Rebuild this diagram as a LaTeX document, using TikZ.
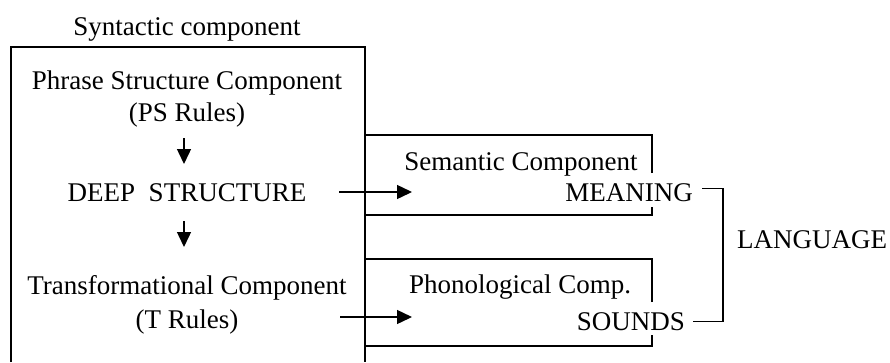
\documentclass[tikz,border=0pt]{standalone}
\usepackage{fontspec}
\setmainfont{Liberation Serif}
\usetikzlibrary{arrows.meta}
\begin{document}
\begin{tikzpicture}[x=1pt,y=-1pt,
  txt/.style={font=\fontsize{27}{32}\selectfont, inner sep=0pt, anchor=base},
  ln/.style={line width=1.3pt},
  arr/.style={line width=1.4pt, -{Triangle[length=15pt,width=14pt]}}]
\useasboundingbox (0,0) rectangle (890,362);
% syntactic component box
\draw[ln] (11,362) -- (11,47) -- (365,47) -- (365,362);
\node[txt] (syn) at (187,35) {Syntactic component};
\node[txt] (ps) at (187,89) {Phrase Structure Component};
\node[txt] (psr) at (187,121) {(PS Rules)};
\node[txt] (deep) at (187,201) {DEEP\ \ STRUCTURE};
\node[txt] (tc) at (187,294) {Transformational Component};
\node[txt] (tr) at (187,328) {(T Rules)};
\draw[arr, shorten <=17pt, shorten >=37pt] ([xshift=-3pt]psr.base) -- ([xshift=-3pt]deep.base);
\draw[arr, shorten <=20pt, shorten >=47pt] ([xshift=-3pt]deep.base) -- ([xshift=-3pt]tc.base);
% semantic box
\draw[ln] (652,173) -- (652,135) -- (365,135);
\draw[ln] (652,207) -- (652,215) -- (365,215);
\node[txt] (sem) at (521,170) {Semantic Component};
\node[txt, anchor=base east] (meaning) at (693,201) {MEANING};
% phonological box
\draw[ln] (652,302) -- (652,259) -- (365,259);
\draw[ln] (652,335) -- (652,346) -- (365,346);
\node[txt] (pho) at (520,293) {Phonological Comp.};
\node[txt, anchor=base east] (sounds) at (685,330) {SOUNDS};
% arrows into components
\coordinate (d1) at (339,192);
\coordinate (s1) at (412,192);
\coordinate (d2) at (340,317);
\coordinate (s2) at (412,317);
\draw[arr] (d1) -- (s1);
\draw[arr] (d2) -- (s2);
% language bracket
\node[txt, anchor=base west] (lang) at (737,248) {LANGUAGE};
\draw[ln] ([xshift=9pt,yshift=4pt]meaning.east) -- ++(21,0) |- ([xshift=8pt]sounds.east);
\end{tikzpicture}
\end{document}
